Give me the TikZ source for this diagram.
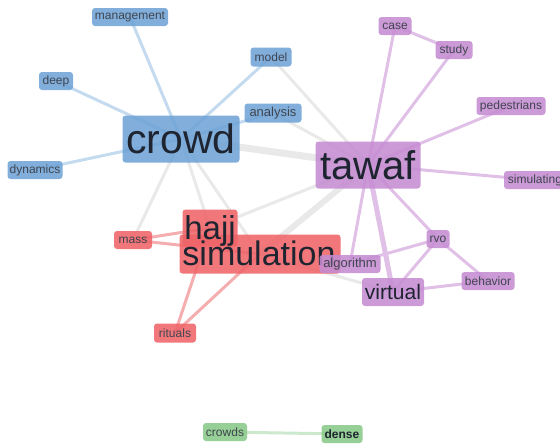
\documentclass[tikz,border=0pt]{standalone}
\usepackage{fontspec}
\setmainfont{Liberation Sans}
\pgfdeclarelayer{background}
\pgfsetlayers{background,main}
\newcommand\fsz[1]{\fontsize{#1}{#1}\selectfont}
\definecolor{bfill}{HTML}{6FA3D6}
\definecolor{pfill}{HTML}{C58CD2}
\definecolor{rfill}{HTML}{EF6468}
\definecolor{gfill}{HTML}{88CA88}
\definecolor{bline}{HTML}{C4DBEF}
\definecolor{pline}{HTML}{E0C0E7}
\definecolor{rline}{HTML}{F5AEB0}
\definecolor{gline}{HTML}{CDE9CD}
\definecolor{kline}{HTML}{E9E9E9}
\definecolor{txt}{HTML}{1E2430}
\tikzset{
  kw/.style={rounded corners=3pt, inner sep=0pt, fill opacity=0.88, text opacity=1, text=txt},
  bnode/.style={kw, fill=bfill},
  pnode/.style={kw, fill=pfill},
  rnode/.style={kw, fill=rfill},
  gnode/.style={kw, fill=gfill},
  small/.style={font=\fsz{12}, text=txt!85},
  lbl/.style={inner sep=0pt, text=txt},
  ed/.style={line width=3pt},
  bedge/.style={ed, draw=bline},
  pedge/.style={ed, draw=pline},
  redge/.style={ed, draw=rline},
  gedge/.style={ed, draw=gline},
  kedge/.style={ed, draw=kline},
}
\begin{document}
\begin{tikzpicture}[x=1pt,y=-1pt]
\useasboundingbox (0,0) rectangle (560,445);
% blue
\node[bnode,small,minimum width=76pt,minimum height=18pt] (management) at (130,17) {management};
\node[bnode,small,minimum width=34pt,minimum height=18pt] (deep) at (56,81) {deep};
\node[bnode,small,minimum width=55pt,minimum height=18pt] (dynamics) at (35,170) {dynamics};
\node[bnode,small,minimum width=41pt,minimum height=19pt] (model) at (271,57) {model};
\node[bnode,font=\fsz{13},text=txt!85,minimum width=57pt,minimum height=19pt] (analysis) at (273,113) {analysis};
\node[bnode,font=\fsz{41},minimum width=117pt,minimum height=47pt] (crowd) at (181,139) {crowd};
% purple
\node[pnode,small,minimum width=33pt,minimum height=18pt] (case) at (395,26) {case};
\node[pnode,small,minimum width=37pt,minimum height=18pt] (study) at (454,50) {study};
\node[pnode,small,minimum width=69pt,minimum height=18pt] (pedestrians) at (511,106) {pedestrians};
\node[pnode,small,minimum width=62pt,minimum height=18pt] (simulating) at (535,180) {simulating};
\node[pnode,font=\fsz{40},minimum width=105pt,minimum height=47pt] (tawaf) at (368,165) {tawaf};
% red
\node[rnode,minimum width=55pt,minimum height=37pt] (hajj) at (210,228) {};
\node[rnode,minimum width=161pt,minimum height=39pt] (simulation) at (260,254) {};
\node[lbl,font=\fsz{34},text height=26pt,text depth=8pt] (simulationtext) at (259,256) {simulation};
\node[lbl,font=\fsz{33},text height=26pt,text depth=6pt] (hajjtext) at (210,229) {hajj};
\node[rnode,small,minimum width=38pt,minimum height=18pt] (mass) at (133,240) {mass};
\node[rnode,small,minimum width=42pt,minimum height=19pt] (rituals) at (175,333) {rituals};
% purple lower
\node[pnode,font=\fsz{13},text=txt!85,minimum width=61pt,minimum height=18pt] (algorithm) at (350,264) {algorithm};
\node[pnode,small,minimum width=23pt,minimum height=18pt] (rvo) at (438,239) {rvo};
\node[pnode,font=\fsz{21},minimum width=62pt,minimum height=28pt] (virtual) at (393,292) {virtual};
\node[pnode,small,minimum width=53pt,minimum height=18pt] (behavior) at (488,281) {behavior};
% green
\node[gnode,small,minimum width=44pt,minimum height=18pt] (crowds) at (225,432) {crowds};
\node[gnode,font=\fsz{12}\bfseries,text=txt,minimum width=41pt,minimum height=18pt] (dense) at (342,434) {dense};

\begin{pgfonlayer}{background}
% gray links
\draw[kedge,line width=7pt] (crowd.center) -- (tawaf.center);
\draw[kedge,line width=6pt] (tawaf.center) -- (simulation.center);
\draw[kedge] (model.center) -- (tawaf.center);
\draw[kedge] (analysis.center) -- (tawaf.center);
\draw[kedge] (tawaf.center) -- (hajj.center);
\draw[kedge] (crowd.center) -- (hajj.center);
\draw[kedge] (crowd.center) -- (simulation.center);
\draw[kedge] (crowd.center) -- (mass.center);
\draw[kedge] (simulation.center) -- (virtual.center);
% blue links
\draw[bedge] (crowd.center) -- (management.center);
\draw[bedge] (crowd.center) -- (deep.center);
\draw[bedge] (crowd.center) -- (dynamics.center);
\draw[bedge] (crowd.center) -- (model.center);
\draw[bedge] (crowd.center) -- (analysis.center);
% purple links
\draw[pedge] (tawaf.center) -- (case.center);
\draw[pedge] (tawaf.center) -- (study.center);
\draw[pedge] (case.center) -- (study.center);
\draw[pedge] (tawaf.center) -- (pedestrians.center);
\draw[pedge] (tawaf.center) -- (simulating.center);
\draw[pedge] (tawaf.center) -- (algorithm.center);
\draw[pedge,line width=5pt] (tawaf.center) -- (virtual.center);
\draw[pedge] (tawaf.center) -- (rvo.center);
\draw[pedge] (rvo.center) -- (algorithm.center);
\draw[pedge] (rvo.center) -- (virtual.center);
\draw[pedge] (rvo.center) -- (behavior.center);
\draw[pedge] (virtual.center) -- (behavior.center);
% red links
\draw[redge] (mass.center) -- (hajj.center);
\draw[redge] (mass.center) -- (simulation.center);
\draw[redge] (rituals.center) -- (hajj.center);
\draw[redge] (rituals.center) -- (simulation.center);
% green link
\draw[gedge] (crowds.center) -- (dense.center);
\end{pgfonlayer}
\end{tikzpicture}
\end{document}
